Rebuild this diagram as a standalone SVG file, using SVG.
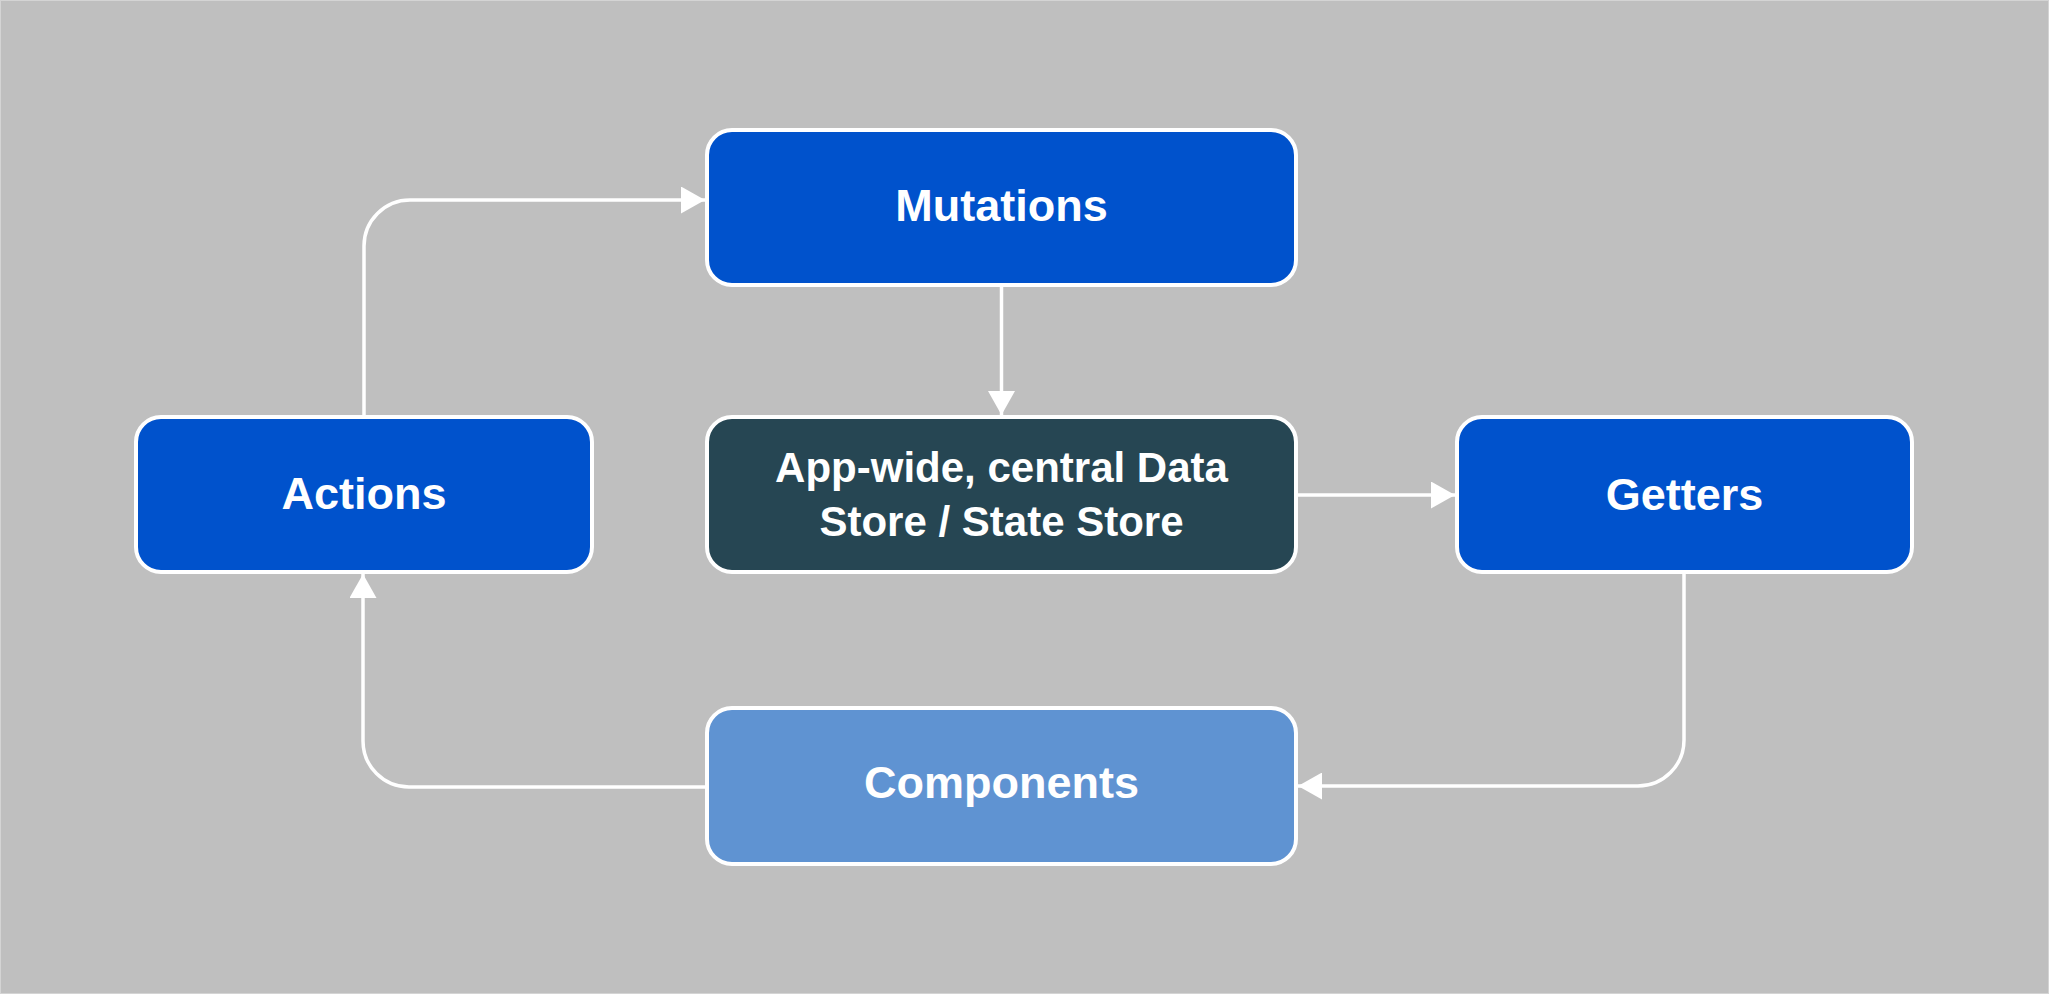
<svg xmlns="http://www.w3.org/2000/svg" width="2049" height="994" viewBox="0 0 2049 994">
  <defs>
    <style>
      .node { stroke: #ffffff; stroke-width: 4; }
      .blue { fill: #0052cc; }
      .store { fill: #264653; }
      .comp { fill: #5f93d2; }
      .label { font-family: "Liberation Sans", Arial, sans-serif; font-weight: bold; font-size: 45px; fill: #ffffff; text-anchor: middle; }
      .small { font-size: 42px; }
      .edge { fill: none; stroke: #ffffff; stroke-width: 3.5; }
    </style>
    <marker id="arrow" markerUnits="userSpaceOnUse" markerWidth="24" markerHeight="27" refX="24" refY="13.5" orient="auto">
      <path d="M0,0 L24,13.5 L0,27 z" fill="#ffffff"/>
    </marker>
  </defs>
  <rect x="0.5" y="0.5" width="2048" height="993" fill="#bfbfbf" stroke="#d4d4d4" stroke-width="1"/>

  <g id="connectors">
    <path class="edge" d="M364 417 V246 A46 46 0 0 1 410 200 H705" marker-end="url(#arrow)"/>
    <path class="edge" d="M1001.5 287 V415" marker-end="url(#arrow)"/>
    <path class="edge" d="M1298 495 H1455" marker-end="url(#arrow)"/>
    <path class="edge" d="M1684 574 V740 A46 46 0 0 1 1638 786 H1298" marker-end="url(#arrow)"/>
    <path class="edge" d="M705 787 H409 A46 46 0 0 1 363 741 V574" marker-end="url(#arrow)"/>
  </g>

  <g id="mutations">
    <rect class="node blue" x="707" y="130" width="589" height="155" rx="25"/>
    <text class="label" x="1001.5" y="221">Mutations</text>
  </g>
  <g id="actions">
    <rect class="node blue" x="136" y="417" width="456" height="155" rx="25"/>
    <text class="label" x="364" y="509">Actions</text>
  </g>
  <g id="store">
    <rect class="node store" x="707" y="417" width="589" height="155" rx="25"/>
    <text class="label small" x="1001.5" y="482">App-wide, central Data</text>
    <text class="label small" x="1001.5" y="536">Store / State Store</text>
  </g>
  <g id="getters">
    <rect class="node blue" x="1457" y="417" width="455" height="155" rx="25"/>
    <text class="label" x="1684.5" y="510">Getters</text>
  </g>
  <g id="components">
    <rect class="node comp" x="707" y="708" width="589" height="156" rx="25"/>
    <text class="label" x="1001.5" y="798">Components</text>
  </g>
</svg>
